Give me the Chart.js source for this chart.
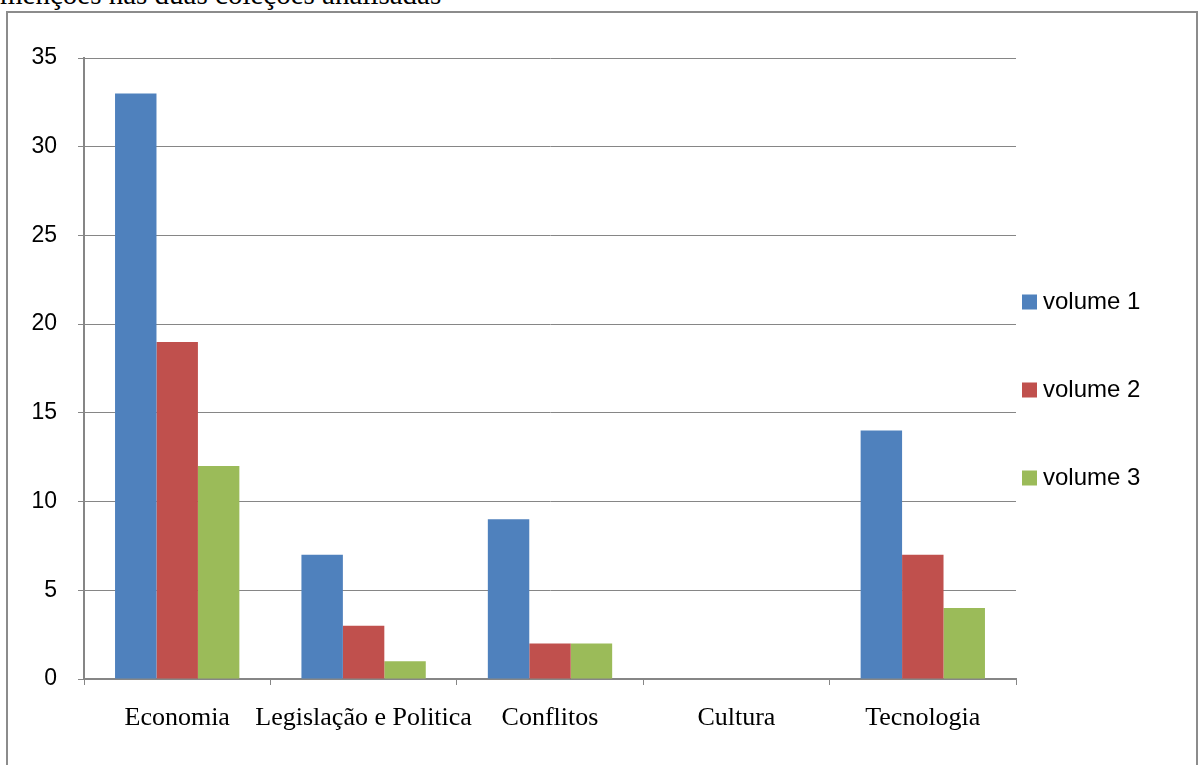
<!DOCTYPE html>
<html>
<head>
<meta charset="utf-8">
<script src="https://cdn.jsdelivr.net/npm/chart.js@4/dist/chart.umd.min.js"></script>
<style>
  html, body { margin: 0; padding: 0; background: #fff; overflow: hidden; }
  #wrap { position: relative; width: 1204px; height: 765px; }
  #title {
    position: absolute; left: 0; top: -20px;
    font-family: "Liberation Serif", serif; font-size: 29px; line-height: 29px; color: #000;
    white-space: nowrap;
  }
  #frame {
    position: absolute; left: 6px; top: 11px; width: 1188px; height: 800px;
    border: 2px solid #8c8c8c; pointer-events: none;
  }
  #chart { position: absolute; left: 0; top: 0; }
</style>
</head>
<body>
<div id="wrap">
  <div id="title">menções nas duas coleções analisadas</div>
  <div id="frame"></div>
  <canvas id="chart" width="1204" height="765"></canvas>
</div>
<script>
'use strict';

var categories = ['Economia', 'Legislação e Politica', 'Conflitos', 'Cultura', 'Tecnologia'];
var volume1 = [33, 7, 9, 0, 14];
var volume2 = [19, 3, 2, 0, 7];
var volume3 = [12, 1, 2, 0, 4];
var seriesNames = ['volume 1', 'volume 2', 'volume 3'];
var seriesColors = ['#4f81bd', '#c0504d', '#9bbb59'];
var yTicks = [0, 5, 10, 15, 20, 25, 30, 35];

var gridColor = '#868686';

// legend on the right, spaced like the original
var sideLegend = {
  id: 'sideLegend',
  afterDraw: function (chart) {
    var ctx = chart.ctx;
    var area = chart.chartArea;
    var mid = (area.top + area.bottom) / 2 + 21;
    var gap = 88;
    ctx.save();
    ctx.font = '24px "Liberation Sans", sans-serif';
    ctx.textBaseline = 'middle';
    ctx.textAlign = 'left';
    chart.data.datasets.forEach(function (ds, i) {
      var cy = mid + (i - 1) * gap;
      ctx.fillStyle = ds.backgroundColor;
      ctx.fillRect(area.right + 6, cy - 7, 15, 15);
      ctx.fillStyle = '#000';
      ctx.fillText(ds.label, area.right + 27, cy + 1);
    });
    ctx.restore();
  }
};

var ctx = document.getElementById('chart').getContext('2d');
var chart = new Chart(ctx, {
  type: 'bar',
  data: {
    labels: categories,
    datasets: [volume1, volume2, volume3].map(function (vals, i) {
      return {
        label: seriesNames[i],
        data: vals,
        backgroundColor: seriesColors[i],
        borderWidth: 0,
        categoryPercentage: 0.667,
        barPercentage: 1.0
      };
    })
  },
  options: {
    responsive: false,
    animation: false,
    layout: { padding: { left: 0, right: 188, top: 58, bottom: 0 } },
    plugins: {
      legend: { display: false },
      tooltip: { enabled: false }
    },
    scales: {
      x: {
        grid: {
          display: true,
          drawOnChartArea: false,
          drawTicks: true,
          tickLength: 6,
          color: gridColor,
          offset: true
        },
        border: { display: true, color: gridColor, width: 2 },
        ticks: {
          color: '#000',
          font: { family: '"Liberation Serif", serif', size: 26 },
          padding: 18,
          maxRotation: 0,
          autoSkip: false
        },
        afterFit: function (scale) { scale.height = 86; }
      },
      y: {
        min: 0,
        max: 35,
        afterBuildTicks: function (scale) {
          scale.ticks = yTicks.map(function (v) { return { value: v }; });
        },
        grid: {
          color: gridColor,
          lineWidth: 1,
          tickLength: 6,
          drawTicks: true
        },
        border: { display: true, color: gridColor, width: 2 },
        ticks: {
          color: '#000',
          font: { family: '"Liberation Sans", sans-serif', size: 23 },
          padding: 21
        },
        afterFit: function (scale) { scale.width = 84; }
      }
    }
  },
  plugins: [sideLegend]
});
</script>
</body>
</html>
